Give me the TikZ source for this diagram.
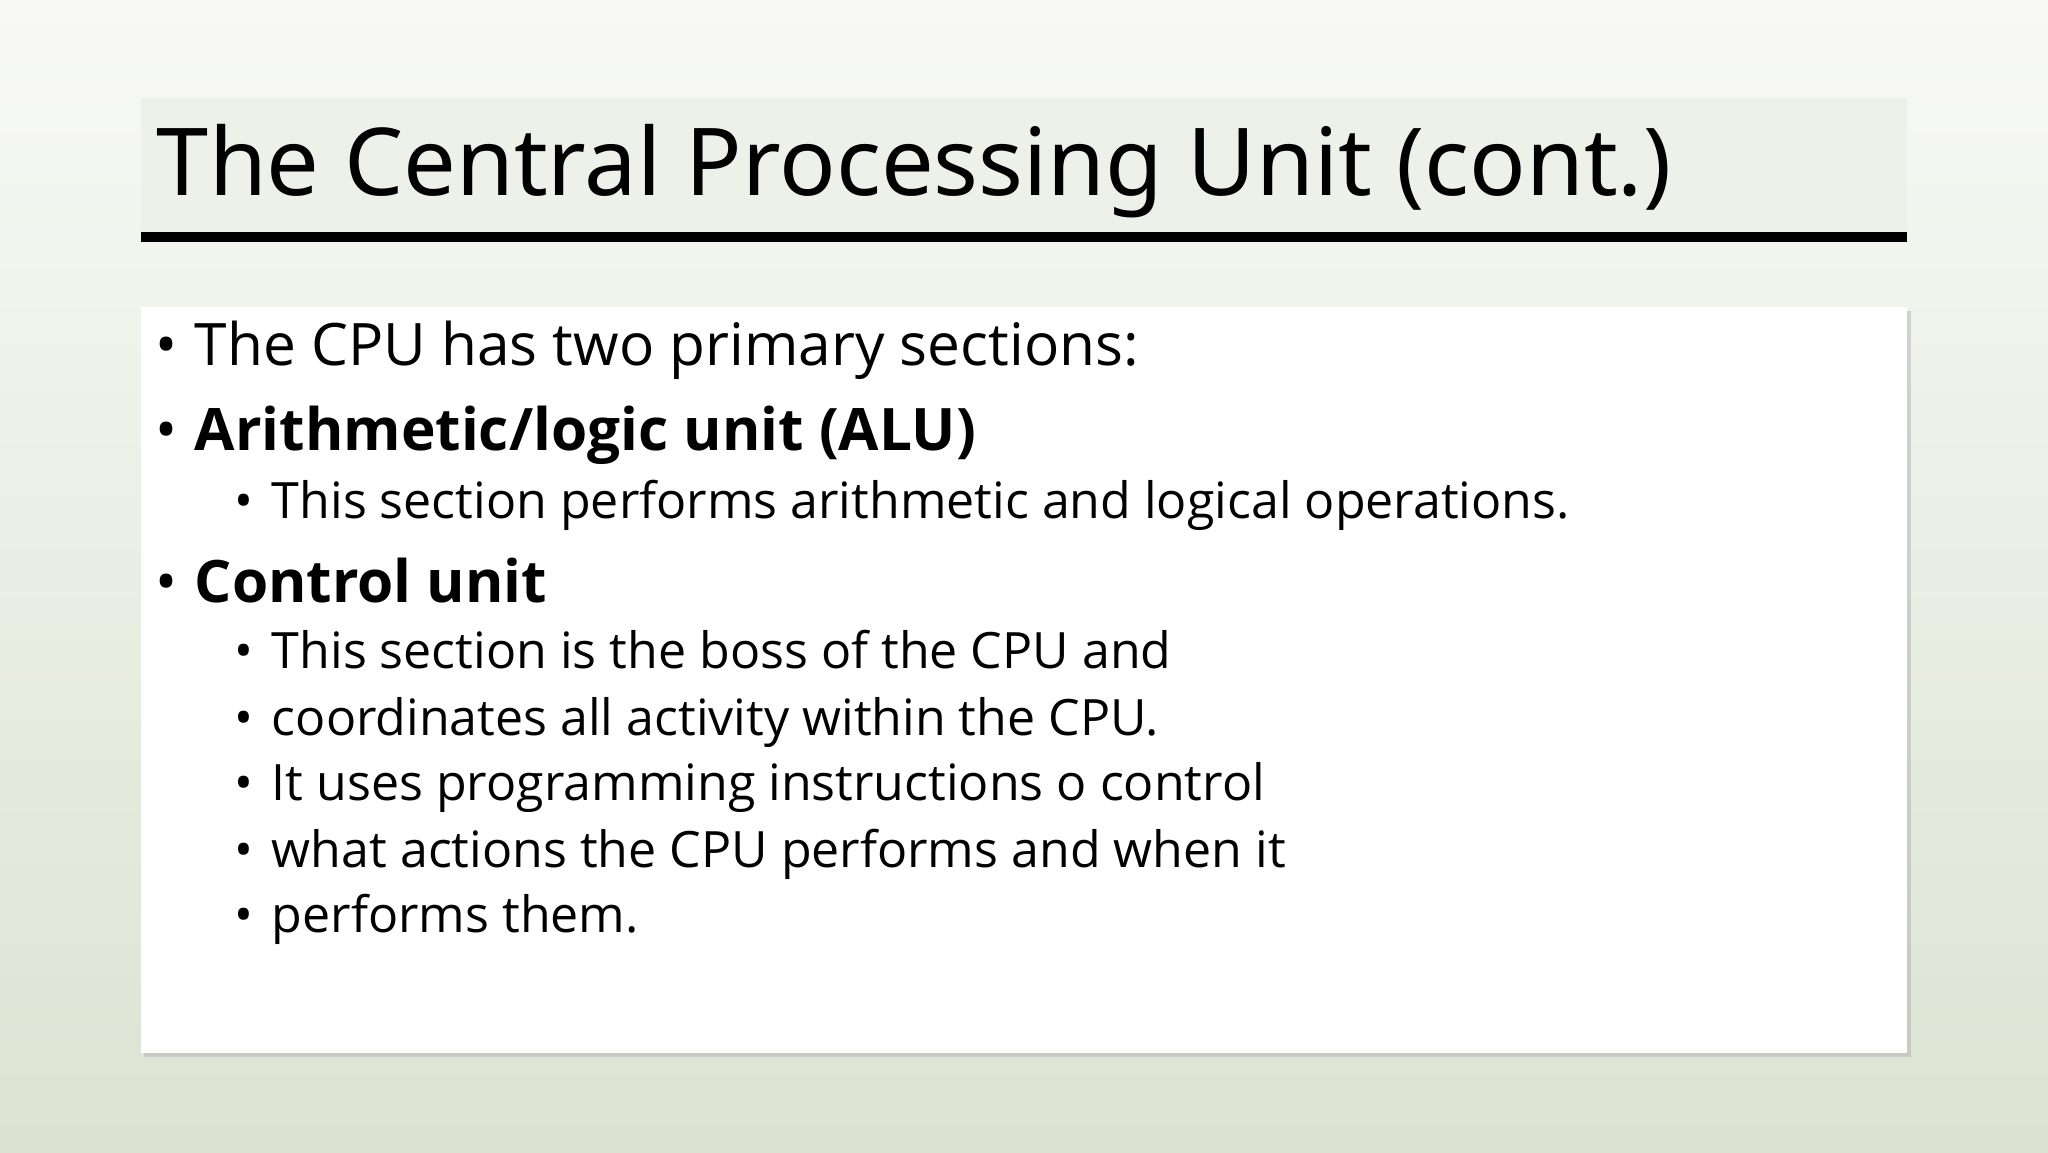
\documentclass[tikz,border=0pt]{standalone}
\usepackage{fontspec}
\setmainfont{Open Sans}
\newfontfamily\titlef{Noto Sans}
\usetikzlibrary{shadows}
\definecolor{bgtop}{HTML}{F8F9F6}
\definecolor{bgbot}{HTML}{DCE3D2}
\definecolor{band}{HTML}{EEF0EA}
\tikzset{
  lone/.style={anchor=base west,inner sep=0pt,font=\fontsize{45}{52}\selectfont},
  ltwo/.style={anchor=base west,inner sep=0pt,font=\fontsize{38.5}{46}\selectfont},
}
\begin{document}
\begin{tikzpicture}[x=1bp,y=-1bp]
\useasboundingbox (0,0) rectangle (1568,882);
\shade[top color=bgtop,bottom color=bgbot] (0,0) rectangle (1568,882);
\fill[band] (108,75) rectangle (1460,180);
\fill[black] (108,178) rectangle (1460,185);
\node[anchor=base west,inner sep=0pt,font=\titlef\fontsize{72}{80}\selectfont] (title) at (120,150) {The Central Processing Unit (cont.)};
\fill[black!30,opacity=0.5] (110,238) rectangle (1463,809);
\fill[white] (108,235) rectangle (1460,806);
\node[lone] (d1) at (119,280) {•}; \node[lone] (b1) at (149,280) {The CPU has two primary sections:};
\node[lone] (d2) at (119,345) {•}; \node[lone] (b2) at (149,345) {\bfseries Arithmetic/logic unit (ALU)};
\node[ltwo] (e1) at (179,397) {•}; \node[ltwo] (s1) at (208,397) {This section performs arithmetic and logical operations.};
\node[lone] (d3) at (119,461) {•}; \node[lone] (b3) at (149,461) {\bfseries Control unit};
\node[ltwo] (e2) at (179,512) {•}; \node[ltwo] (s2) at (208,512) {This section is the boss of the CPU and};
\node[ltwo] (e3) at (179,563) {•}; \node[ltwo] (s3) at (208,563) {coordinates all activity within the CPU.};
\node[ltwo] (e4) at (179,613) {•}; \node[ltwo] (s4) at (208,613) {It uses programming instructions o control};
\node[ltwo] (e5) at (179,664) {•}; \node[ltwo] (s5) at (208,664) {what actions the CPU performs and when it};
\node[ltwo] (e6) at (179,714) {•}; \node[ltwo] (s6) at (208,714) {performs them.};
\end{tikzpicture}
\end{document}
